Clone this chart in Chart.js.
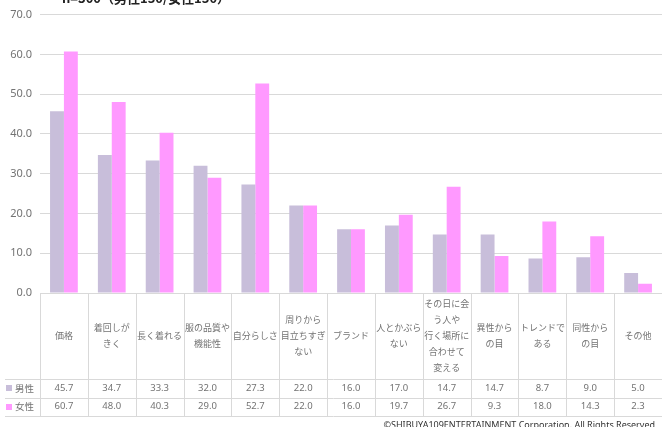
<!DOCTYPE html>
<html>
<head>
<meta charset="utf-8">
<script src="https://cdn.jsdelivr.net/npm/chart.js@4/dist/chart.umd.min.js"></script>
<style>
  body { margin: 0; background: #fff; }
  canvas { display: block; }
</style>
</head>
<body>
<canvas id="plots" width="662" height="427"></canvas>
<script>
// categories (multi-line labels, as printed in the table)
var categories = [
  ["価格"],
  ["着回しが", "きく"],
  ["長く着れる"],
  ["服の品質や", "機能性"],
  ["自分らしさ"],
  ["周りから", "目立ちすぎ", "ない"],
  ["ブランド"],
  ["人とかぶら", "ない"],
  ["その日に会", "う人や", "行く場所に", "合わせて", "変える"],
  ["異性から", "の目"],
  ["トレンドで", "ある"],
  ["同性から", "の目"],
  ["その他"]
];
var male = [45.7, 34.7, 33.3, 32.0, 27.3, 22.0, 16.0, 17.0, 14.7, 14.7, 8.7, 9.0, 5.0];
var female = [60.7, 48.0, 40.3, 29.0, 52.7, 22.0, 16.0, 19.7, 26.7, 9.3, 18.0, 14.3, 2.3];
var seriesNames = ["男性", "女性"];
var yTicks = [0, 10, 20, 30, 40, 50, 60, 70];

var maleColor = '#C8BEDA';
var femaleColor = '#FF99FF';
var textColor = '#737373';
var lineColor = '#D9D9D9';

// draws the data table under the bars, the cut-off title and the copyright
var tablePlugin = {
  id: 'dataTable',
  afterDraw: function(chart) {
    var ctx = chart.ctx;
    var area = chart.chartArea;
    var n = categories.length;
    var w = (area.right - area.left) / n;
    var top = area.bottom;
    var headerBottom = top + 86;
    var rowH = 18.5;
    var bottom = headerBottom + rowH * 2;

    ctx.save();
    ctx.strokeStyle = lineColor;
    ctx.lineWidth = 1;
    // vertical lines
    for (var i = 0; i <= n; i++) {
      var xx = Math.round(area.left + i * w) + 0.5;
      ctx.beginPath();
      ctx.moveTo(xx, top);
      ctx.lineTo(xx, bottom);
      ctx.stroke();
    }
    // horizontal lines
    [headerBottom, headerBottom + rowH, bottom].forEach(function(yy) {
      yy = Math.round(yy) + 0.5;
      ctx.beginPath();
      ctx.moveTo(5, yy);
      ctx.lineTo(area.right, yy);
      ctx.stroke();
    });

    // category labels
    ctx.fillStyle = textColor;
    ctx.textAlign = 'center';
    ctx.textBaseline = 'middle';
    ctx.font = '9px "Noto Sans CJK JP"';
    var midY = (top + headerBottom) / 2;
    categories.forEach(function(lines, i) {
      var cx = area.left + (i + 0.5) * w;
      var y0 = midY - (lines.length - 1) * 16 / 2;
      lines.forEach(function(t, k) {
        ctx.fillText(t, cx, y0 + k * 16);
      });
    });

    // value rows
    var rows = [male, female];
    var colors = [maleColor, femaleColor];
    ctx.font = '9.5px "Noto Sans"';
    rows.forEach(function(vals, r) {
      var cy = headerBottom + rowH * (r + 0.5);
      vals.forEach(function(v, i) {
        ctx.fillText(v.toFixed(1), area.left + (i + 0.5) * w, cy);
      });
      ctx.fillStyle = colors[r];
      ctx.fillRect(6, Math.round(cy - 3), 6, 6);
      ctx.fillStyle = textColor;
      ctx.textAlign = 'left';
      ctx.font = '9.5px "Noto Sans CJK JP"';
      ctx.fillText(seriesNames[r], 15, cy);
      ctx.textAlign = 'center';
      ctx.font = '9.5px "Noto Sans"';
    });

    // title, cut off at top edge
    ctx.fillStyle = '#222';
    ctx.textAlign = 'left';
    ctx.textBaseline = 'alphabetic';
    ctx.font = 'bold 13px "Noto Sans CJK JP"';
    ctx.fillText('n=300（男性150/女性150）', 62, 3);

    // copyright, cut off at bottom edge
    ctx.fillStyle = '#333';
    ctx.textAlign = 'right';
    ctx.textBaseline = 'middle';
    ctx.font = '9px "Noto Sans"';
    ctx.fillText('©SHIBUYA109ENTERTAINMENT Corporation. All Rights Reserved', 655, 425);
    ctx.restore();
  }
};

new Chart(document.getElementById('plots'), {
  type: 'bar',
  data: {
    labels: categories,
    datasets: [
      { label: seriesNames[0], data: male, backgroundColor: maleColor },
      { label: seriesNames[1], data: female, backgroundColor: femaleColor }
    ]
  },
  options: {
    responsive: false,
    animation: false,
    categoryPercentage: 0.58,
    barPercentage: 1.0,
    layout: { padding: { top: 9, bottom: 134, left: 0, right: 0 } },
    plugins: { legend: { display: false }, tooltip: { enabled: false } },
    scales: {
      x: {
        ticks: { display: false },
        grid: { display: false, drawTicks: false },
        border: { display: true, color: lineColor },
        afterFit: function(s) { s.height = 0; }
      },
      y: {
        min: 0,
        max: 70,
        afterBuildTicks: function(s) { s.ticks = yTicks.map(function(v) { return { value: v }; }); },
        ticks: {
          color: textColor,
          font: { family: 'Noto Sans', size: 11 },
          padding: 8,
          callback: function(v) { return Number(v).toFixed(1); }
        },
        grid: { color: lineColor, drawTicks: false },
        border: { display: false },
        afterFit: function(s) { s.width = 40; }
      }
    }
  },
  plugins: [tablePlugin]
});
</script>
</body>
</html>
